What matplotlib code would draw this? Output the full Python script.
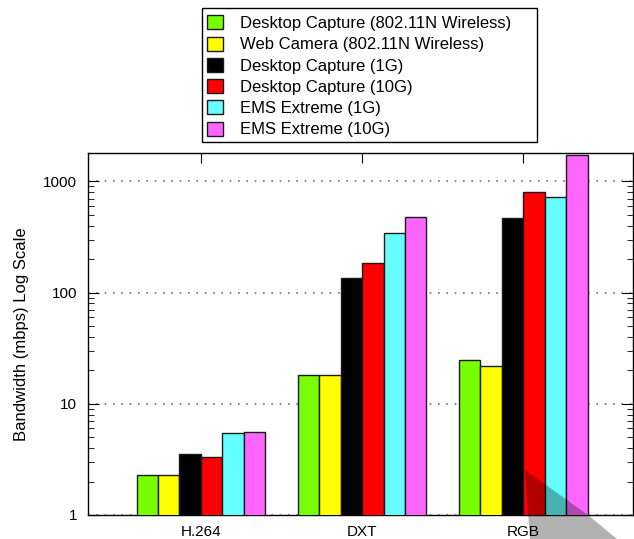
import numpy as np
import matplotlib
matplotlib.use("Agg")
import matplotlib.pyplot as plt
from matplotlib.patches import Rectangle, Polygon

plt.rcParams['font.family'] = ['Liberation Sans', 'DejaVu Sans']

# data
groups = ["H.264", "DXT", "RGB"]
series = [
    "Desktop Capture (802.11N Wireless)",
    "Web Camera (802.11N Wireless)",
    "Desktop Capture (1G)",
    "Desktop Capture (10G)",
    "EMS Extreme (1G)",
    "EMS Extreme (10G)",
]
desktop_wifi = [2.3, 18, 25]
webcam_wifi = [2.3, 18, 22]
desktop_1g = [3.55, 136, 464]
desktop_10g = [3.3, 186, 807]
ems_1g = [5.5, 345, 728]
ems_10g = [5.6, 474, 1740]
colors = ["#77ff00", "#ffff00", "#000000", "#ff0000", "#66ffff", "#ff66ff"]

W, H = 634, 539
fig = plt.figure(figsize=(W / 100, H / 100), dpi=100)
# axes box in pixels: left 88, right 633, top 153, bottom 515
ax = fig.add_axes([88 / W, 1 - 515 / H, (633 - 88) / W, (515 - 153) / H])

x = np.arange(len(groups))
bw = 0.133
values = [desktop_wifi, webcam_wifi, desktop_1g, desktop_10g, ems_1g, ems_10g]
handles = []
for i, (vals, name, c) in enumerate(zip(values, series, colors)):
    b = ax.bar(x + (i - 2.5) * bw, vals, width=bw, color=c, edgecolor="#1a1a1a",
               linewidth=1.0, label=name, zorder=3)
    handles.append(b)

ax.set_yscale("log")
ax.set_ylim(1, 1800)
ax.set_xlim(-0.7, 2.68)
ax.set_xticks(x)
ax.set_xticklabels(groups)
ax.set_yticks([1, 10, 100, 1000])
ax.set_yticklabels(["1", "10", "100", "1000"])
ax.yaxis.grid(True, which="major", linestyle=(0, (1, 4)), color="#707070", linewidth=1.2, zorder=1)
ax.tick_params(axis="both", which="both", direction="in", top=True, right=True, labelsize=11)
ax.tick_params(axis="y", which="major", length=8, pad=8)
ax.tick_params(axis="y", which="minor", length=4)
ax.tick_params(axis="x", which="major", length=7, pad=7)
ax.set_ylabel("Bandwidth (mbps) Log Scale", fontsize=12, labelpad=10)
for s in ax.spines.values():
    s.set_linewidth(1.0)

# legend box drawn by hand
fig.patches.append(Rectangle((202 / W, 1 - 142 / H), (537 - 202) / W, (142 - 8) / H,
                             transform=fig.transFigure, fill=False, edgecolor="black",
                             linewidth=1.0))
leg = fig.legend(handles=handles, labels=series, loc="upper left",
                 bbox_to_anchor=(204 / W, 1 - 12 / H), frameon=False, fontsize=12,
                 handlelength=0.92, handleheight=0.92, handletextpad=1.05,
                 labelspacing=0.33, borderpad=0.2, borderaxespad=0)

# gray shadow shape at the bottom right
fig.patches.append(Polygon([(525 / W, 1 - 470 / H), (588 / W, 1 - 515 / H),
                            (617 / W, 1 - 539 / H), (530 / W, 1 - 539 / H)],
                           closed=True, transform=fig.transFigure, facecolor="black",
                           alpha=0.3, edgecolor="none", zorder=10))

fig.savefig("out.png", dpi=100)
